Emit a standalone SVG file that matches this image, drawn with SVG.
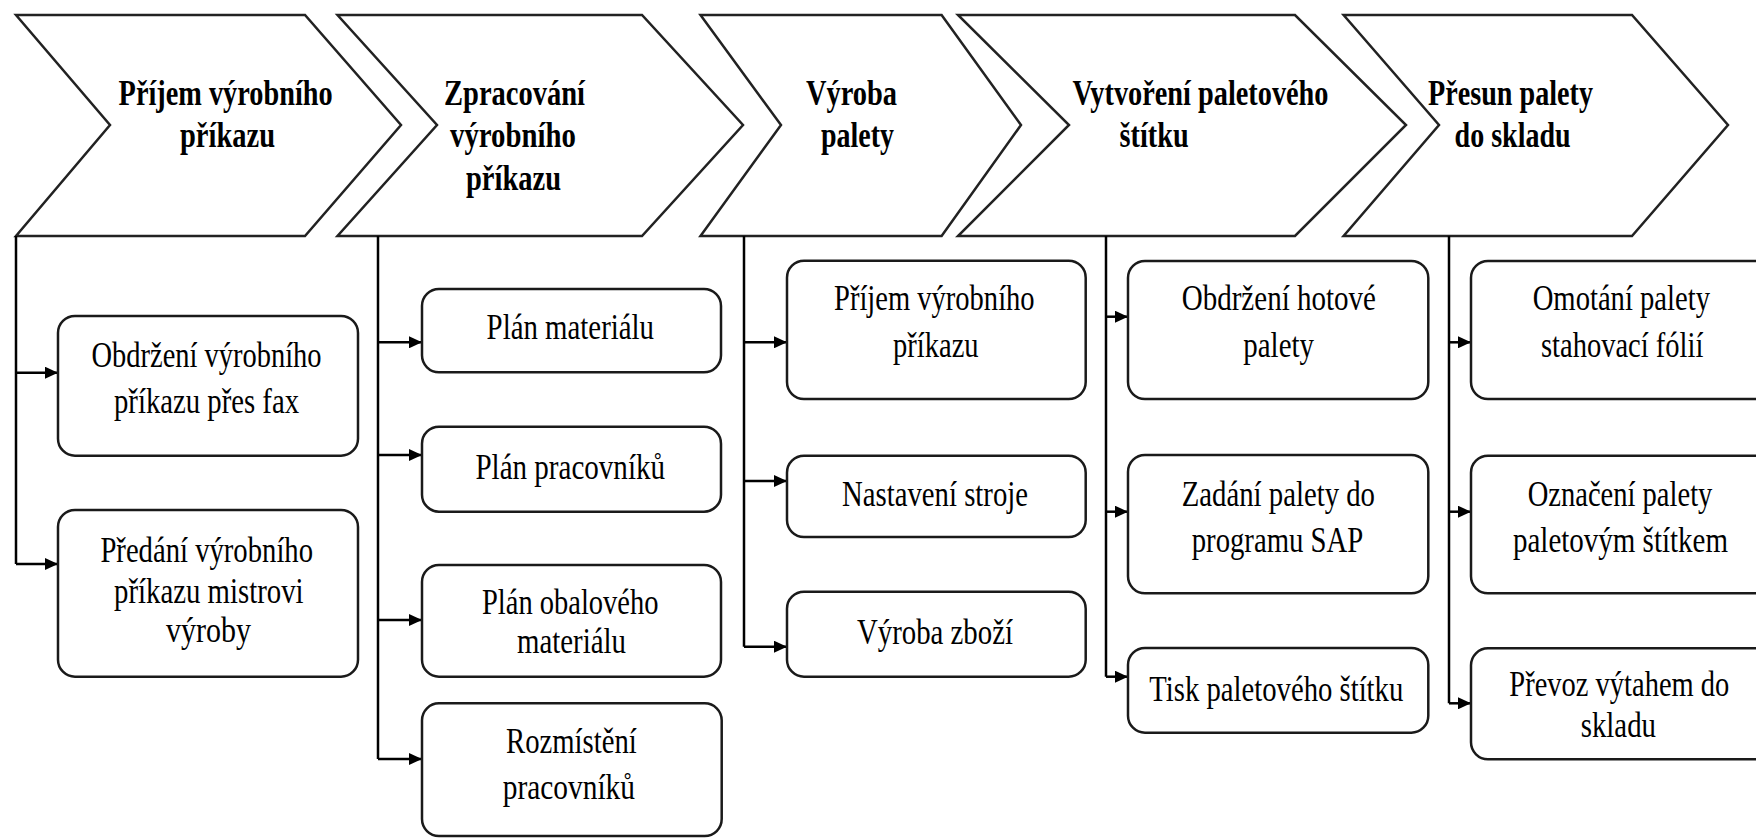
<svg xmlns="http://www.w3.org/2000/svg" width="1756" height="838" viewBox="0 0 1756 838">
<defs>
<style>
.chev{fill:#fff;stroke:#222;stroke-width:2.5;stroke-linejoin:miter}
.box{fill:#fff;stroke:#1a1a1a;stroke-width:2.5}
.ct{font-family:"Liberation Serif","Times New Roman",serif;font-weight:bold;font-size:36px;fill:#000}
.bt{font-family:"Liberation Serif","Times New Roman",serif;font-size:36px;fill:#000}
.ln{fill:none;stroke:#000;stroke-width:2.5}
.ar{fill:none;stroke:#000;stroke-width:2.5;marker-end:url(#ah)}
</style>
<marker id="ah" markerUnits="userSpaceOnUse" markerWidth="14" markerHeight="12" refX="13" refY="6" orient="auto">
<path d="M0,0 L13,6 L0,12 Z" fill="#000"/>
</marker>
</defs>
<rect width="1756" height="838" fill="#fff"/>

<g id="chevron1">
<polygon class="chev" points="16,15 305,15 401,125 305,236 16,236 110,125"/>
<text class="ct" transform="translate(118.6,105) scale(0.78,1)" textLength="274.4" lengthAdjust="spacingAndGlyphs">Příjem výrobního</text>
<text class="ct" transform="translate(180,147) scale(0.78,1)" textLength="121.8" lengthAdjust="spacingAndGlyphs">příkazu</text>
</g>
<g id="chevron2">
<polygon class="chev" points="337.5,15 642,15 743,125 642,236 337.5,236 437,125"/>
<text class="ct" transform="translate(444,105) scale(0.78,1)" textLength="180.8" lengthAdjust="spacingAndGlyphs">Zpracování</text>
<text class="ct" transform="translate(450,147) scale(0.78,1)" textLength="161.5" lengthAdjust="spacingAndGlyphs">výrobního</text>
<text class="ct" transform="translate(466,190) scale(0.78,1)" textLength="121.8" lengthAdjust="spacingAndGlyphs">příkazu</text>
</g>
<g id="chevron3">
<polygon class="chev" points="700.5,15 941.6,15 1021,125 941.6,236 700.5,236 781,125"/>
<text class="ct" transform="translate(806,105) scale(0.78,1)" textLength="116.7" lengthAdjust="spacingAndGlyphs">Výroba</text>
<text class="ct" transform="translate(821,147) scale(0.78,1)" textLength="93.6" lengthAdjust="spacingAndGlyphs">palety</text>
</g>
<g id="chevron4">
<polygon class="chev" points="958,15 1295,15 1406,125 1295,236 958,236 1069,125"/>
<text class="ct" transform="translate(1072.5,105) scale(0.78,1)" textLength="328.2" lengthAdjust="spacingAndGlyphs">Vytvoření paletového</text>
<text class="ct" transform="translate(1119.6,147) scale(0.78,1)" textLength="88.5" lengthAdjust="spacingAndGlyphs">štítku</text>
</g>
<g id="chevron5">
<polygon class="chev" points="1343.6,15 1632,15 1728,125 1632,236 1343.6,236 1439,125"/>
<text class="ct" transform="translate(1428,105) scale(0.78,1)" textLength="211.5" lengthAdjust="spacingAndGlyphs">Přesun palety</text>
<text class="ct" transform="translate(1454.6,147) scale(0.78,1)" textLength="148.7" lengthAdjust="spacingAndGlyphs">do skladu</text>
</g>

<g id="connectors">
<path class="ln" d="M16,236 V564"/>
<path class="ar" d="M16,372.7 H58"/>
<path class="ar" d="M16,564 H58"/>
<path class="ln" d="M378,236 V759"/>
<path class="ar" d="M378,342.3 H422"/>
<path class="ar" d="M378,455 H422"/>
<path class="ar" d="M378,620 H422"/>
<path class="ar" d="M378,759 H422"/>
<path class="ln" d="M744,236 V646.7"/>
<path class="ar" d="M744,342.3 H787"/>
<path class="ar" d="M744,481 H787"/>
<path class="ar" d="M744,646.7 H787"/>
<path class="ln" d="M1106,236 V676.7"/>
<path class="ar" d="M1106,316.7 H1128"/>
<path class="ar" d="M1106,511.7 H1128"/>
<path class="ar" d="M1106,676.7 H1128"/>
<path class="ln" d="M1449,236 V703.3"/>
<path class="ar" d="M1449,342.3 H1471"/>
<path class="ar" d="M1449,511.7 H1471"/>
<path class="ar" d="M1449,703.3 H1471"/>
</g>

<g id="b1">
<rect class="box" x="58" y="316" width="300" height="139.7" rx="17"/>
<text class="bt" transform="translate(91.5,366.7) scale(0.78,1)" textLength="294.9" lengthAdjust="spacingAndGlyphs">Obdržení výrobního</text>
<text class="bt" transform="translate(114,413) scale(0.78,1)" textLength="237.2" lengthAdjust="spacingAndGlyphs">příkazu přes fax</text>
</g>
<g id="b2">
<rect class="box" x="58" y="510" width="300" height="166.7" rx="17"/>
<text class="bt" transform="translate(100.4,561.7) scale(0.78,1)" textLength="272.6" lengthAdjust="spacingAndGlyphs">Předání výrobního</text>
<text class="bt" transform="translate(114,603) scale(0.78,1)" textLength="243.1" lengthAdjust="spacingAndGlyphs">příkazu mistrovi</text>
<text class="bt" transform="translate(166,641.7) scale(0.78,1)" textLength="109" lengthAdjust="spacingAndGlyphs">výroby</text>
</g>
<g id="b3">
<rect class="box" x="422" y="289" width="299" height="83.3" rx="17"/>
<text class="bt" transform="translate(486.6,339.3) scale(0.78,1)" textLength="214.6" lengthAdjust="spacingAndGlyphs">Plán materiálu</text>
</g>
<g id="b4">
<rect class="box" x="422" y="426.7" width="299" height="85" rx="17"/>
<text class="bt" transform="translate(475.4,479.3) scale(0.78,1)" textLength="243.1" lengthAdjust="spacingAndGlyphs">Plán pracovníků</text>
</g>
<g id="b5">
<rect class="box" x="422" y="565" width="299" height="111.7" rx="17"/>
<text class="bt" transform="translate(482,614) scale(0.78,1)" textLength="226.3" lengthAdjust="spacingAndGlyphs">Plán obalového</text>
<text class="bt" transform="translate(517,653) scale(0.78,1)" textLength="139.7" lengthAdjust="spacingAndGlyphs">materiálu</text>
</g>
<g id="b6">
<rect class="box" x="422" y="703.3" width="299.7" height="132.7" rx="17"/>
<text class="bt" transform="translate(506,752.7) scale(0.78,1)" textLength="167.6" lengthAdjust="spacingAndGlyphs">Rozmístění</text>
<text class="bt" transform="translate(502.7,799.3) scale(0.78,1)" textLength="169.6" lengthAdjust="spacingAndGlyphs">pracovníků</text>
</g>
<g id="b7">
<rect class="box" x="787" y="260.7" width="298.7" height="138.3" rx="17"/>
<text class="bt" transform="translate(834,310) scale(0.78,1)" textLength="257.2" lengthAdjust="spacingAndGlyphs">Příjem výrobního</text>
<text class="bt" transform="translate(893,356.7) scale(0.78,1)" textLength="109.7" lengthAdjust="spacingAndGlyphs">příkazu</text>
</g>
<g id="b8">
<rect class="box" x="787" y="455.7" width="298.7" height="81.3" rx="17"/>
<text class="bt" transform="translate(842,506) scale(0.78,1)" textLength="238.5" lengthAdjust="spacingAndGlyphs">Nastavení stroje</text>
</g>
<g id="b9">
<rect class="box" x="787" y="591.7" width="298.7" height="85" rx="17"/>
<text class="bt" transform="translate(857,644) scale(0.78,1)" textLength="199.9" lengthAdjust="spacingAndGlyphs">Výroba zboží</text>
</g>
<g id="b10">
<rect class="box" x="1128" y="261" width="300.3" height="138" rx="17"/>
<text class="bt" transform="translate(1181.7,310) scale(0.78,1)" textLength="249.1" lengthAdjust="spacingAndGlyphs">Obdržení hotové</text>
<text class="bt" transform="translate(1243.3,356.7) scale(0.78,1)" textLength="90.6" lengthAdjust="spacingAndGlyphs">palety</text>
</g>
<g id="b11">
<rect class="box" x="1128" y="455" width="300.3" height="138.3" rx="17"/>
<text class="bt" transform="translate(1181.7,505.7) scale(0.78,1)" textLength="247.8" lengthAdjust="spacingAndGlyphs">Zadání palety do</text>
<text class="bt" transform="translate(1191.7,551.7) scale(0.78,1)" textLength="220" lengthAdjust="spacingAndGlyphs">programu SAP</text>
</g>
<g id="b12">
<rect class="box" x="1128" y="648" width="300.3" height="84.7" rx="17"/>
<text class="bt" transform="translate(1149.3,700.7) scale(0.78,1)" textLength="325.6" lengthAdjust="spacingAndGlyphs">Tisk paletového štítku</text>
</g>
<g id="b13">
<rect class="box" x="1471" y="261" width="301" height="138" rx="17"/>
<text class="bt" transform="translate(1532.7,310) scale(0.78,1)" textLength="227.3" lengthAdjust="spacingAndGlyphs">Omotání palety</text>
<text class="bt" transform="translate(1541,356.7) scale(0.78,1)" textLength="208.1" lengthAdjust="spacingAndGlyphs">stahovací fólií</text>
</g>
<g id="b14">
<rect class="box" x="1471" y="455.7" width="301" height="137.6" rx="17"/>
<text class="bt" transform="translate(1527.7,506) scale(0.78,1)" textLength="236.7" lengthAdjust="spacingAndGlyphs">Označení palety</text>
<text class="bt" transform="translate(1513,551.7) scale(0.78,1)" textLength="275.6" lengthAdjust="spacingAndGlyphs">paletovým štítkem</text>
</g>
<g id="b15">
<rect class="box" x="1471" y="648.3" width="301" height="111" rx="17"/>
<text class="bt" transform="translate(1509.3,696) scale(0.78,1)" textLength="282.1" lengthAdjust="spacingAndGlyphs">Převoz výtahem do</text>
<text class="bt" transform="translate(1580.7,736.7) scale(0.78,1)" textLength="96.5" lengthAdjust="spacingAndGlyphs">skladu</text>
</g>
</svg>
